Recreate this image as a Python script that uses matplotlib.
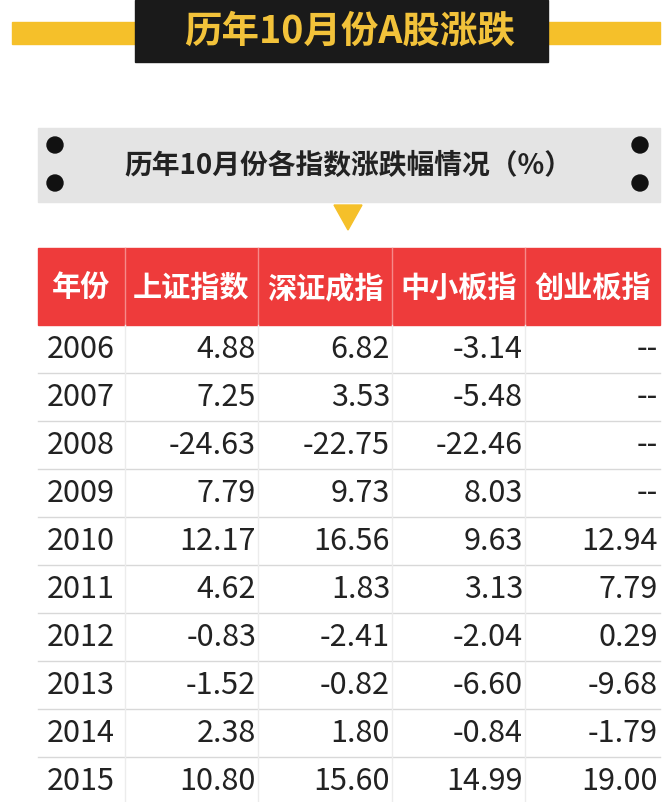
import matplotlib.pyplot as plt
from matplotlib.patches import Rectangle, Polygon, Circle

plt.rcParams['font.family'] = ['Noto Sans CJK SC', 'DejaVu Sans']

title = '历年10月份A股涨跌'
subtitle = '历年10月份各指数涨跌幅情况（%）'
columns = ['年份', '上证指数', '深证成指', '中小板指', '创业板指']
years = ['2006', '2007', '2008', '2009', '2010', '2011', '2012', '2013', '2014', '2015']
shanghai = ['4.88', '7.25', '-24.63', '7.79', '12.17', '4.62', '-0.83', '-1.52', '2.38', '10.80']
shenzhen = ['6.82', '3.53', '-22.75', '9.73', '16.56', '1.83', '-2.41', '-0.82', '1.80', '15.60']
smeboard = ['-3.14', '-5.48', '-22.46', '8.03', '9.63', '3.13', '-2.04', '-6.60', '-0.84', '14.99']
chinext = ['--', '--', '--', '--', '12.94', '7.79', '0.29', '-9.68', '-1.79', '19.00']

W, H = 671, 802
fig = plt.figure(figsize=(W / 100, H / 100), dpi=100)
ax = fig.add_axes([0, 0, 1, 1])
ax.set_xlim(0, W)
ax.set_ylim(H, 0)
ax.axis('off')

yellow = '#f5c02a'
# top banner
ax.add_patch(Rectangle((12, 22), 648, 22, color=yellow))
ax.add_patch(Rectangle((135, 0), 413, 62, color='#1a1a1a'))
ax.text(350, 31, title, color='#f2c23a', fontsize=27, fontweight='bold', ha='center', va='center')

# subtitle band
ax.add_patch(Rectangle((38, 128), 622, 74, color='#e4e4e4'))
for x in (55, 640):
    for y in (145, 183):
        ax.add_patch(Circle((x, y), 8, color='#111111'))
ax.text(348, 166, subtitle, fontsize=20, fontweight='bold', ha='center', va='center', color='#222222')
ax.add_patch(Polygon([(334, 205), (362, 205), (348, 230)], color=yellow))

# table
edges = [38, 125, 258, 392, 525, 660]
ax.add_patch(Rectangle((38, 248), 622, 77, color='#ee3b3b'))
for i, name in enumerate(columns):
    ax.text((edges[i] + edges[i + 1]) / 2, 288, name, color='white', fontsize=21,
            fontweight='bold', ha='center', va='center')
for x in edges[1:-1]:
    ax.plot([x, x], [248, 325], color='#f58a8a', lw=1)

top, rh = 325, 48
cols = [shanghai, shenzhen, smeboard, chinext]
for r, yr in enumerate(years):
    y0 = top + r * rh
    ax.plot([38, 660], [y0 + rh, y0 + rh], color='#d8d8d8', lw=1)
    yc = y0 + rh / 2
    ax.text(47, yc, yr, fontsize=22, ha='left', va='center', color='#222222')
    for c, vals in enumerate(cols):
        ax.text(edges[c + 2] - 2, yc, vals[r], fontsize=22, ha='right', va='center', color='#222222')
for x in edges[1:-1]:
    ax.plot([x, x], [top, H], color='#ececec', lw=1)

fig.savefig('out.png', dpi=100)
